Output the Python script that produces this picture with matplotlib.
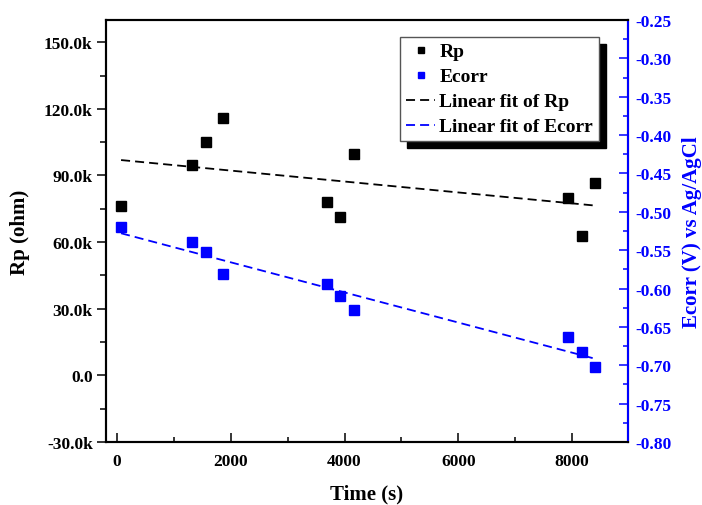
import numpy as np
import matplotlib
matplotlib.use("Agg")
import matplotlib.pyplot as plt
from matplotlib.ticker import FixedLocator, MultipleLocator, FuncFormatter

plt.rcParams['font.family'] = ['Liberation Serif', 'DejaVu Serif']
plt.rcParams['font.weight'] = 'bold'
plt.rcParams['axes.unicode_minus'] = False

# ---- data ----
time_s = [70, 1318, 1564, 1857, 3686, 3919, 4165, 7931, 8172, 8413]
rp_ohm = [76200, 94700, 105100, 116000, 78100, 71400, 99600, 79800, 62800, 86400]
ecorr_v = [-0.520, -0.539, -0.552, -0.581, -0.594, -0.610, -0.628, -0.663, -0.683, -0.702]

x_ticks = [0, 2000, 4000, 6000, 8000]
rp_ticks = [-30000, 0, 30000, 60000, 90000, 120000, 150000]
e_ticks = [-0.80, -0.75, -0.70, -0.65, -0.60, -0.55, -0.50, -0.45, -0.40, -0.35, -0.30, -0.25]

BLUE = '#0000ff'

t = np.array(time_s, dtype=float)
rp = np.array(rp_ohm, dtype=float)
ec = np.array(ecorr_v, dtype=float)

# linear fits computed from the data
rp_fit = np.polyval(np.polyfit(t, rp, 1), t)
ec_fit = np.polyval(np.polyfit(t, ec, 1), t)

fig = plt.figure(figsize=(7.02, 5.06), dpi=100)
ax = fig.add_axes([106/702, 1-443/506, (628-106)/702, (443-21)/506])
ax2 = ax.twinx()

h1, = ax.plot(t, rp, 's', color='black', ms=7, mec='black', ls='none', label='Rp')
h3, = ax.plot(t, rp_fit, color='black', lw=1.3, ls=(0, (5.0, 2.8)), label='Linear fit of Rp')
h2, = ax2.plot(t, ec, 's', color=BLUE, ms=7, mec=BLUE, ls='none', label='Ecorr')
h4, = ax2.plot(t, ec_fit, color=BLUE, lw=1.3, ls=(0, (5.0, 2.8)), label='Linear fit of Ecorr')

ax.set_xlim(-195, 8985)
ax.set_ylim(-30000, 160000)
ax2.set_ylim(-0.80, -0.25)

ax.xaxis.set_major_locator(FixedLocator(x_ticks))
ax.xaxis.set_minor_locator(MultipleLocator(1000))
ax.yaxis.set_major_locator(FixedLocator(rp_ticks))
ax.yaxis.set_minor_locator(MultipleLocator(15000))
ax.yaxis.set_major_formatter(FuncFormatter(lambda v, p: "0.0" if v == 0 else f"{v/1000:.1f}k"))
ax2.yaxis.set_major_locator(FixedLocator(e_ticks))
ax2.yaxis.set_minor_locator(MultipleLocator(0.025))
ax2.yaxis.set_major_formatter(FuncFormatter(lambda v, p: f"{v:.2f}"))

for s in ax.spines.values():
    s.set_linewidth(1.5)
for s in ax2.spines.values():
    s.set_linewidth(1.5)
ax2.spines['right'].set_color(BLUE)

ax.tick_params(axis='x', which='major', direction='in', length=6.5, width=1.1, labelsize=12.5, pad=8)
ax.tick_params(axis='x', which='minor', direction='in', length=3.3, width=1.1)
ax.tick_params(axis='y', which='major', direction='out', length=6.5, width=1.1, labelsize=12.5, pad=3)
ax.tick_params(axis='y', which='minor', direction='out', length=4, width=1.1)
ax2.tick_params(axis='y', which='major', direction='in', length=6.5, width=1.1, labelsize=12.5,
                colors=BLUE, pad=5)
ax2.tick_params(axis='y', which='minor', direction='in', length=3.3, width=1.1, colors=BLUE)

ax.set_xlabel('Time (s)', fontsize=15, fontweight='bold', labelpad=10)
ax.set_ylabel('Rp (ohm)', fontsize=15, fontweight='bold', labelpad=10)
ax2.set_ylabel('Ecorr (V) vs Ag/AgCl', fontsize=15, fontweight='bold', color=BLUE, labelpad=8)

leg = ax2.legend([h1, h2, h3, h4], ['Rp', 'Ecorr', 'Linear fit of Rp', 'Linear fit of Ecorr'],
                 loc='upper right', bbox_to_anchor=(0.944, 0.960), borderaxespad=0,
                 fontsize=14, markerscale=0.7, handlelength=1.5, handletextpad=0.2,
                 labelspacing=0.38, borderpad=0.3, fancybox=False,
                 shadow={'ox': 5, 'oy': -5, 'color': 'black', 'alpha': 1})
leg.get_frame().set_edgecolor('#555555')
leg.get_frame().set_linewidth(1.0)
leg.get_frame().set_alpha(1)

fig.savefig('out.png', dpi=100)
